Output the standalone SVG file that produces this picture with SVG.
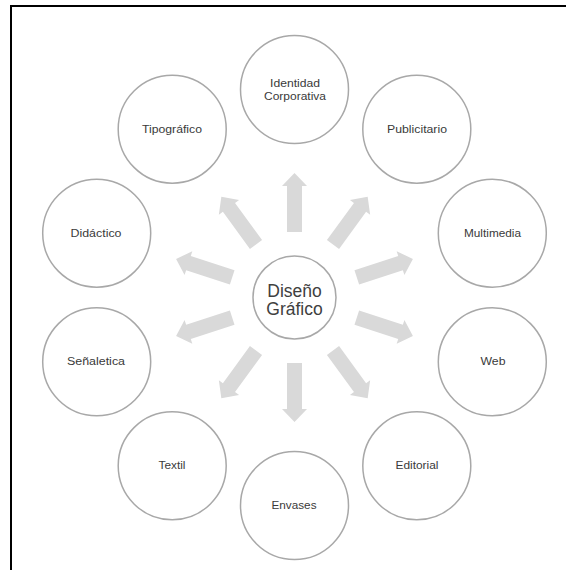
<svg xmlns="http://www.w3.org/2000/svg" width="566" height="570" viewBox="0 0 566 570">
<defs>
<style>
.node{fill:#ffffff;stroke:#a8a8a8;stroke-width:1.5}
.lbl{font-family:"Liberation Sans",Arial,sans-serif;font-size:10px;fill:#3a3a3a;text-anchor:middle}
.ctr{font-family:"Liberation Sans",Arial,sans-serif;font-size:17.5px;fill:#404040;text-anchor:middle}
.arr{fill:#d9d9d9}
</style>
<polygon id="arrow" class="arr" points="-7.5,-65.5 7.5,-65.5 7.5,-111.5 12.5,-111.5 0,-124.5 -12.5,-111.5 -7.5,-111.5"/>
</defs>
<rect x="0" y="0" width="566" height="570" fill="#ffffff"/>
<rect x="11" y="6" width="600" height="600" fill="none" stroke="#000000" stroke-width="2"/>
<g id="connectors" transform="translate(294.5,297.5)">
<use href="#arrow" transform="rotate(0)"/>
<use href="#arrow" transform="rotate(36)"/>
<use href="#arrow" transform="rotate(72)"/>
<use href="#arrow" transform="rotate(108)"/>
<use href="#arrow" transform="rotate(144)"/>
<use href="#arrow" transform="rotate(180)"/>
<use href="#arrow" transform="rotate(216)"/>
<use href="#arrow" transform="rotate(252)"/>
<use href="#arrow" transform="rotate(288)"/>
<use href="#arrow" transform="rotate(324)"/>
</g>
<g id="center">
<circle class="node" cx="294.5" cy="297.5" r="41.5"/>
<text class="ctr" x="294.5" y="296.5">Diseño</text>
<text class="ctr" x="294.5" y="315">Gráfico</text>
</g>
<g id="identidad">
<circle class="node" cx="294.5" cy="89.5" r="54"/>
<text class="lbl" x="295" y="87" textLength="50" lengthAdjust="spacingAndGlyphs">Identidad</text>
<text class="lbl" x="295" y="99.5" textLength="62" lengthAdjust="spacingAndGlyphs">Corporativa</text>
</g>
<g id="publicitario">
<circle class="node" cx="416.8" cy="129.2" r="54"/>
<text class="lbl" x="417" y="132.5" textLength="60" lengthAdjust="spacingAndGlyphs">Publicitario</text>
</g>
<g id="multimedia">
<circle class="node" cx="492.3" cy="233.2" r="54"/>
<text class="lbl" x="492.5" y="237" textLength="57" lengthAdjust="spacingAndGlyphs">Multimedia</text>
</g>
<g id="web">
<circle class="node" cx="492.3" cy="361.8" r="54"/>
<text class="lbl" x="493" y="365" textLength="25" lengthAdjust="spacingAndGlyphs">Web</text>
</g>
<g id="editorial">
<circle class="node" cx="416.8" cy="465.8" r="54"/>
<text class="lbl" x="417" y="469" textLength="43" lengthAdjust="spacingAndGlyphs">Editorial</text>
</g>
<g id="envases">
<circle class="node" cx="294.5" cy="505.5" r="54"/>
<text class="lbl" x="294" y="509" textLength="45" lengthAdjust="spacingAndGlyphs">Envases</text>
</g>
<g id="textil">
<circle class="node" cx="172.2" cy="465.8" r="54"/>
<text class="lbl" x="172" y="469" textLength="27" lengthAdjust="spacingAndGlyphs">Textil</text>
</g>
<g id="senaletica">
<circle class="node" cx="96.7" cy="361.8" r="54"/>
<text class="lbl" x="96" y="365" textLength="58" lengthAdjust="spacingAndGlyphs">Señaletica</text>
</g>
<g id="didactico">
<circle class="node" cx="96.7" cy="233.2" r="54"/>
<text class="lbl" x="96" y="237" textLength="51" lengthAdjust="spacingAndGlyphs">Didáctico</text>
</g>
<g id="tipografico">
<circle class="node" cx="172.2" cy="129.2" r="54"/>
<text class="lbl" x="172" y="132.5" textLength="60" lengthAdjust="spacingAndGlyphs">Tipográfico</text>
</g>
</svg>
